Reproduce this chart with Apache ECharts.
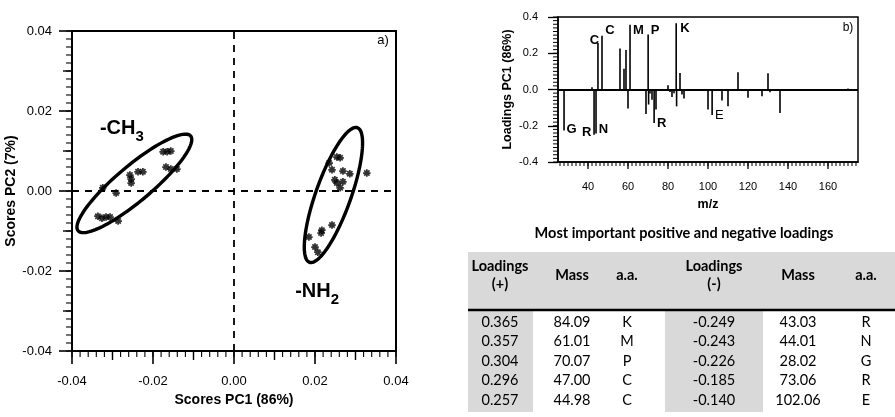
<!DOCTYPE html>
<html><head><meta charset="utf-8">
<script src="https://cdn.jsdelivr.net/npm/echarts@6/dist/echarts.min.js"></script>
<style>html,body{margin:0;padding:0;background:#fff}#c{width:895px;height:417px}</style>
</head><body><div id="c"></div>
<script>
// ---------- data: panel a (scores) ----------
const ch3X = [-0.0175,-0.0165,-0.0156,-0.0168,-0.0156,-0.0141,-0.0237,-0.0225,-0.0257,-0.0254,-0.0254,-0.0324,-0.0291,-0.0336,-0.0326,-0.0316,-0.0306,-0.0286];
const ch3Y = [0.0098,0.0098,0.0100,0.0060,0.0055,0.0055,0.0048,0.0048,0.0040,0.0030,0.0020,0.0008,-0.0005,-0.0063,-0.0068,-0.0065,-0.0065,-0.0075];
const nh2X = [0.0254,0.0262,0.0235,0.0242,0.0269,0.0286,0.0328,0.0249,0.0254,0.0269,0.0262,0.0242,0.0217,0.0215,0.0185,0.0200,0.0207];
const nh2Y = [0.0085,0.0083,0.0070,0.0053,0.0050,0.0043,0.0045,0.0028,0.0020,0.0023,0.0008,-0.0085,-0.0098,-0.0105,-0.0115,-0.0140,-0.0153];
// confidence ellipses: major-axis start, major-axis end, minor half width
const ellStart = [[-0.0388,-0.0102],[0.0185,-0.0182]];
const ellEnd   = [[-0.0104,0.0140],[0.0306,0.0162]];
const ellHalfW = [0.0044,0.0044];
const groupMain = ['-CH','-NH'];
const groupSub  = ['3','2'];
const groupX = [-0.0331,0.0151];
const groupY = [0.0182,-0.0226];
const scoreTicks = [-0.04,-0.02,0,0.02,0.04];
const scoreMidTicks = [-0.03,-0.01,0.01,0.03];
// ---------- data: panel b (loadings) ----------
const mz = [28.02,42,43.03,44.01,44.98,47.00,56,58,59,60,61.01,69,70.07,70.3,71,72,73.06,74,80,81,82,83,84.09,84.3,86,87,88,100,102.06,107,110,115,120,127,130,131,136,170];
const loading = [-0.226,0.013,-0.249,-0.243,0.257,0.296,0.226,0.115,0.218,-0.105,0.357,-0.135,0.304,-0.083,-0.022,-0.056,-0.185,-0.111,0.024,-0.014,-0.041,-0.020,0.365,-0.093,0.091,-0.028,-0.050,-0.111,-0.140,-0.061,-0.093,0.095,-0.046,-0.037,0.089,-0.015,-0.130,0.005];
const peakLetters = ['C','C','M','P','K','G','R','N','R','E'];
const peakLetterMz = [43.2,51,65.2,73.5,88.5,31.8,39.3,47.7,76.8,105.7];
const peakLetterVal = [0.272,0.325,0.324,0.324,0.337,-0.222,-0.235,-0.222,-0.185,-0.144];
const peakLetterBold = [1,1,1,1,1,1,1,1,1,0];
const mzTicks = [40,60,80,100,120,140,160];
const loadTicks = [-0.4,-0.2,0,0.2,0.4];
// ---------- data: table ----------
const tableTitle = 'Most important positive and negative loadings';
const tableHeaders = ['Loadings\n(+)','Mass','a.a.','Loadings\n(-)','Mass','a.a.'];
const posLoad = ['0.365','0.357','0.304','0.296','0.257'];
const posMass = ['84.09','61.01','70.07','47.00','44.98'];
const posAA   = ['K','M','P','C','C'];
const negLoad = ['-0.249','-0.243','-0.226','-0.185','-0.140'];
const negMass = ['43.03','44.01','28.02','73.06','102.06'];
const negAA   = ['R','N','G','R','E'];

const FONT = 'Liberation Sans';
const TFONT = 'Lato';

// asterisk marker (four crossing bars)
const ASTER = 'path://M-0.7,-3 L0.7,-3 L0.7,3 L-0.7,3 Z M-3,-0.7 L3,-0.7 L3,0.7 L-3,0.7 Z ' +
  'M-1.626,-2.616 L2.616,1.626 L1.626,2.616 L-2.616,-1.626 Z M-2.616,1.626 L1.626,-2.616 L2.616,-1.626 L-1.626,2.616 Z';

const chart = echarts.init(document.getElementById('c'));

const gridA = {left:72, top:31, width:324, height:320};
const gridB = {left:558, top:17, width:300, height:145};

function tbl() {
  const g = [];
  g.push({type:'text', x:684, y:233, style:{text:tableTitle, fontFamily:TFONT, fontWeight:'bold', fontSize:14.5, fill:'#000', align:'center', verticalAlign:'middle'}});
  g.push({type:'rect', shape:{x:468,y:252,width:427,height:57}, style:{fill:'#d9d9d9'}});
  g.push({type:'rect', shape:{x:468,y:309,width:65,height:103}, style:{fill:'#d9d9d9'}});
  g.push({type:'rect', shape:{x:665,y:309,width:98,height:103}, style:{fill:'#d9d9d9'}});
  g.push({type:'line', shape:{x1:468,y1:310,x2:895,y2:310}, style:{stroke:'#000', lineWidth:2.5}});
  const cx = [500,572,627,714,798,866];
  const ry = [322,341.5,361,380.5,400];
  tableHeaders.forEach((h,i)=>{
    g.push({type:'text', x:cx[i], y:275, style:{text:h, fontFamily:TFONT, fontWeight:'bold', fontSize:14.5, lineHeight:18, fill:'#000', align:'center', verticalAlign:'middle'}});
  });
  const cols = [posLoad,posMass,posAA,negLoad,negMass,negAA];
  cols.forEach((col,i)=>{
    col.forEach((v,r)=>{
      g.push({type:'text', x:cx[i], y:ry[r], style:{text:v, fontFamily:TFONT, fontSize:14.5, fill:'#000', align:'center', verticalAlign:'middle'}});
    });
  });
  return g;
}

const baseGraphic = [
  {type:'text', x:383, y:40, style:{text:'a)', fontFamily:FONT, fontSize:13, fill:'#000', align:'center', verticalAlign:'middle'}},
  {type:'text', x:848, y:28, style:{text:'b)', fontFamily:FONT, fontSize:12, fill:'#000', align:'center', verticalAlign:'middle'}}
].concat(tbl());

const axLabel = (fs, margin, fmt) => ({show:true, fontFamily:FONT, fontSize:fs, color:'#000', margin:margin, formatter:fmt});

const option = {
  animation:false,
  grid:[
    Object.assign({show:true, borderColor:'#000', borderWidth:2}, gridA),
    Object.assign({show:true, borderColor:'#000', borderWidth:1.5}, gridB)
  ],
  xAxis:[
    {gridIndex:0, type:'value', min:-0.04, max:0.04, interval:0.02,
     axisLine:{show:true, onZero:false, lineStyle:{color:'#000', width:2}},
     axisTick:{show:true, length:13, lineStyle:{color:'#000', width:1.6}},
     splitLine:{show:false},
     axisLabel:axLabel(13, 24, v=>v.toFixed(2)),
     name:'Scores PC1 (86%)', nameLocation:'middle', nameGap:41,
     nameTextStyle:{fontFamily:FONT, fontWeight:'bold', fontSize:14, color:'#000'}},
    {gridIndex:1, type:'value', min:25, max:175, interval:5,
     axisLine:{show:true, onZero:false, lineStyle:{color:'#000', width:1.5}},
     axisTick:{show:false}, splitLine:{show:false},
     axisLabel:axLabel(11, 19.5, v => mzTicks.indexOf(Math.round(v)) >= 0 ? String(Math.round(v)) : ''),
     name:'m/z', nameLocation:'middle', nameGap:36,
     nameTextStyle:{fontFamily:FONT, fontWeight:'bold', fontSize:12.5, color:'#000'}}
  ],
  yAxis:[
    {gridIndex:0, type:'value', min:-0.04, max:0.04, interval:0.02,
     axisLine:{show:true, onZero:false, lineStyle:{color:'#000', width:2}},
     axisTick:{show:true, length:13, lineStyle:{color:'#000', width:1.6}},
     splitLine:{show:false},
     axisLabel:axLabel(13, 20, v=>v.toFixed(2)),
     name:'Scores PC2 (7%)', nameLocation:'middle', nameGap:48,
     nameTextStyle:{fontFamily:FONT, fontWeight:'bold', fontSize:14, color:'#000'}},
    {gridIndex:1, type:'value', min:-0.4, max:0.4, interval:0.2,
     axisLine:{show:true, onZero:false, lineStyle:{color:'#000', width:1.5}},
     axisTick:{show:true, length:10, lineStyle:{color:'#000', width:1.3}},
     splitLine:{show:false},
     axisLabel:axLabel(11, 20, v=>v.toFixed(1)),
     name:'Loadings PC1 (86%)', nameLocation:'middle', nameGap:44,
     nameTextStyle:{fontFamily:FONT, fontWeight:'bold', fontSize:12.5, color:'#000'}}
  ],
  series:[
    {type:'custom', xAxisIndex:0, yAxisIndex:0, z:3,
     data: ellStart.map((s,i)=>[s[0],s[1],ellEnd[i][0],ellEnd[i][1],ellHalfW[i]]),
     encode:{x:[0,2], y:[1,3]},
     renderItem:function(params, api){
       const p1 = api.coord([api.value(0), api.value(1)]);
       const p2 = api.coord([api.value(2), api.value(3)]);
       const cx = (p1[0]+p2[0])/2, cy = (p1[1]+p2[1])/2;
       const dx = p2[0]-p1[0], dy = p2[1]-p1[1];
       const L = Math.hypot(dx,dy)/2;
       const a = L - 1.6;
       const b = api.size([0, api.value(4)])[1];
       const ux = dx/(2*L), uy = dy/(2*L);
       const pts = [];
       for (let k=0;k<120;k++){
         const t = k/120*Math.PI*2;
         const u = a*Math.cos(t), v = b*Math.sin(t);
         pts.push([cx + u*ux - v*uy, cy + u*uy + v*ux]);
       }
       return {type:'polygon', shape:{points:pts}, style:{fill:'none', stroke:'#000', lineWidth:3.4}};
     },
     markLine:{silent:true, symbol:'none', label:{show:false}, animation:false,
       lineStyle:{color:'#000', type:[7,6], width:1.8},
       data:[{xAxis:0},{yAxis:0}]}
    },
    {type:'scatter', xAxisIndex:0, yAxisIndex:0, symbol:ASTER, symbolSize:7.5, symbolKeepAspect:true,
     itemStyle:{color:'#000'}, z:4, data: ch3X.map((x,i)=>[x, ch3Y[i]])},
    {type:'scatter', xAxisIndex:0, yAxisIndex:0, symbol:ASTER, symbolSize:7.5, symbolKeepAspect:true,
     itemStyle:{color:'#000'}, z:4, data: nh2X.map((x,i)=>[x, nh2Y[i]])},
    {type:'custom', xAxisIndex:0, yAxisIndex:0, z:5,
     data: groupX.map((x,i)=>[x, groupY[i], i]),
     renderItem:function(params, api){
       const p = api.coord([api.value(0), api.value(1)]);
       const i = api.value(2);
       return {type:'text', x:p[0], y:p[1], style:{
         text:'{m|'+groupMain[i]+'}{s|'+groupSub[i]+'}', align:'left', verticalAlign:'top',
         rich:{m:{fontFamily:FONT, fontWeight:'bold', fontSize:20, fill:'#000', padding:[0,0,6,0]},
               s:{fontFamily:FONT, fontWeight:'bold', fontSize:15, fill:'#000', verticalAlign:'bottom'}}}};
     }},
    // panel b stems
    {type:'custom', xAxisIndex:1, yAxisIndex:1, z:3,
     data: mz.map((m,i)=>[m, loading[i]]),
     renderItem:function(params, api){
       const p0 = api.coord([api.value(0), 0]);
       const p1 = api.coord([api.value(0), api.value(1)]);
       return {type:'line', shape:{x1:p0[0], y1:p0[1], x2:p1[0], y2:p1[1]}, style:{stroke:'#000', lineWidth:1.6}};
     },
     markLine:{silent:true, symbol:'none', label:{show:false}, animation:false,
       lineStyle:{color:'#000', type:'solid', width:2}, data:[{yAxis:0}]}
    },
    {type:'custom', xAxisIndex:1, yAxisIndex:1, z:5,
     data: peakLetterMz.map((m,i)=>[m, peakLetterVal[i], i]),
     renderItem:function(params, api){
       const p = api.coord([api.value(0), api.value(1)]);
       const i = api.value(2);
       return {type:'text', x:p[0], y:p[1], style:{text:peakLetters[i], fontFamily:FONT,
         fontWeight: peakLetterBold[i] ? 'bold' : 'normal', fontSize:13, fill:'#000', align:'center', verticalAlign:'middle'}};
     }}
  ],
  graphic: baseGraphic
};
chart.setOption(option);

// ---- minor / secondary tick marks, positioned through the chart's own axis scales ----
try {
  const stepValues = (lo, hi, step) => {
    const out = [];
    const n = Math.round((hi - lo) / step);
    for (let k = 0; k <= n; k++) out.push(+(lo + k * step).toFixed(6));
    return out;
  };
  const tickEls = [];
  const addXTicks = (axisIdx, yAtBottom, vals, len, w) => {
    const y = chart.convertToPixel({yAxisIndex: axisIdx}, yAtBottom);
    vals.forEach(v => {
      const x = chart.convertToPixel({xAxisIndex: axisIdx}, v);
      if (isFinite(x) && isFinite(y))
        tickEls.push({type:'line', silent:true, z:10, shape:{x1:x, y1:y, x2:x, y2:y + len}, style:{stroke:'#000', lineWidth:w}});
    });
  };
  const addYTicks = (axisIdx, xAtLeft, vals, len, w) => {
    const x = chart.convertToPixel({xAxisIndex: axisIdx}, xAtLeft);
    vals.forEach(v => {
      const y = chart.convertToPixel({yAxisIndex: axisIdx}, v);
      if (isFinite(x) && isFinite(y))
        tickEls.push({type:'line', silent:true, z:10, shape:{x1:x - len, y1:y, x2:x, y2:y}, style:{stroke:'#000', lineWidth:w}});
    });
  };
  // panel a: minor every 0.002, medium at odd hundredths
  addXTicks(0, -0.04, stepValues(-0.04, 0.04, 0.002), 6, 1.1);
  addXTicks(0, -0.04, scoreMidTicks, 9, 1.4);
  addYTicks(0, -0.04, stepValues(-0.04, 0.04, 0.002), 6, 1.1);
  addYTicks(0, -0.04, scoreMidTicks, 9, 1.4);
  // panel b
  addXTicks(1, -0.4, stepValues(26, 174, 2), 4, 1);
  addXTicks(1, -0.4, mzTicks, 7, 1.3);
  addYTicks(1, 25, stepValues(-0.4, 0.4, 0.02), 5, 1);
  chart.setOption({graphic: baseGraphic.concat(tickEls)});
} catch (e) { /* keep the chart as drawn */ }
</script>
</body></html>
